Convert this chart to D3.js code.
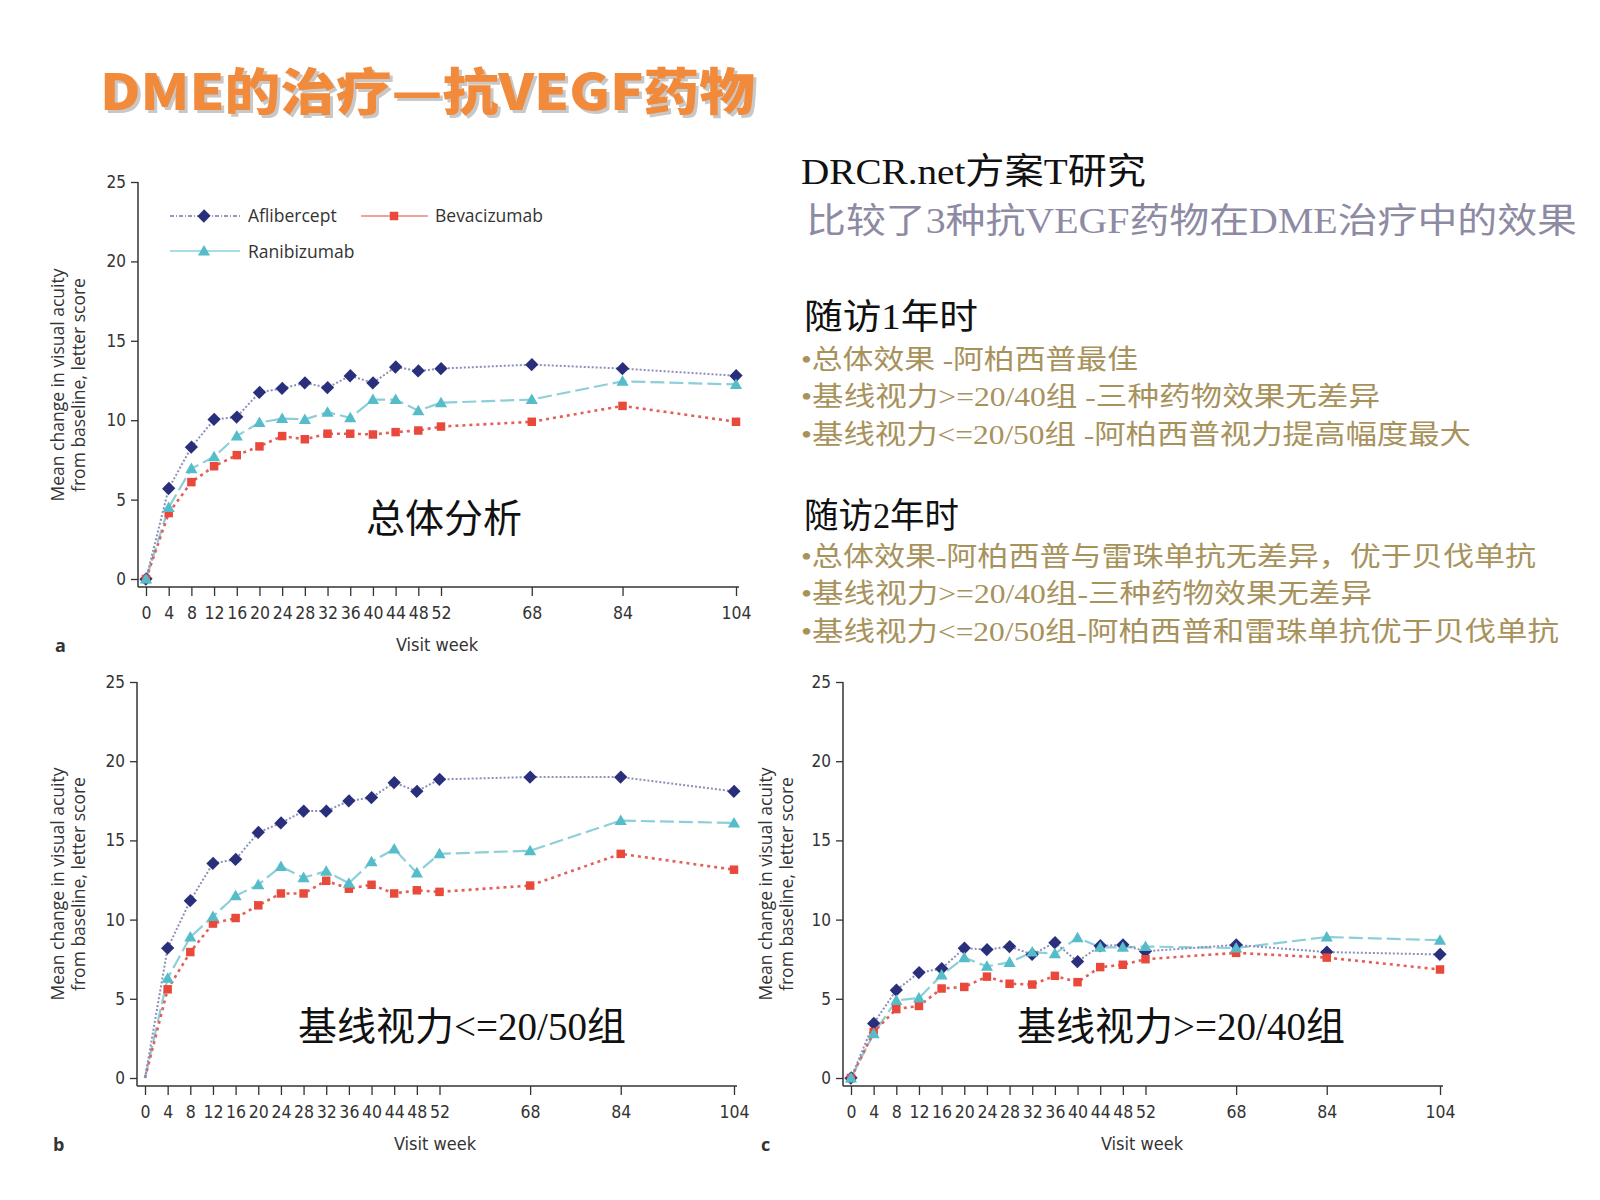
<!DOCTYPE html>
<html>
<head>
<meta charset="utf-8">
<script src="https://cdn.jsdelivr.net/npm/d3@7"></script>
<style>
  html, body { margin: 0; padding: 0; background: #ffffff; }
  svg { display: block; }
</style>
</head>
<body>
<svg id="chart" width="1600" height="1200"></svg>
<script>
// ---------------- DATA ----------------
const weeks = [0, 4, 8, 12, 16, 20, 24, 28, 32, 36, 40, 44, 48, 52, 68, 84, 104];
const xTickLabels = ["0","4","8","12","16","20","24","28","32","36","40","44","48","52","68","84","104"];
const yTicks = [0, 5, 10, 15, 20, 25];
const seriesNames = ["Aflibercept", "Bevacizumab", "Ranibizumab"];

// Panel a: overall
const afliA = [0, 5.7, 8.3, 10.05, 10.2, 11.75, 12.0, 12.35, 12.05, 12.8, 12.35, 13.35, 13.1, 13.25, 13.5, 13.25, 12.8];
const bevaA = [0, 4.15, 6.1, 7.1, 7.8, 8.35, 9.0, 8.8, 9.15, 9.15, 9.1, 9.25, 9.35, 9.6, 9.9, 10.9, 9.9];
const raniA = [0, 4.5, 6.95, 7.7, 9.0, 9.85, 10.1, 10.05, 10.5, 10.15, 11.3, 11.3, 10.6, 11.1, 11.3, 12.45, 12.25];

// Panel b: baseline VA <= 20/50
const afliB = [0, 8.2, 11.2, 13.55, 13.8, 15.5, 16.1, 16.85, 16.85, 17.5, 17.7, 18.65, 18.1, 18.85, 19.0, 19.0, 18.1];
const bevaB = [0, 5.6, 7.95, 9.75, 10.1, 10.9, 11.65, 11.65, 12.45, 11.95, 12.2, 11.65, 11.85, 11.75, 12.15, 14.15, 13.15];
const raniB = [0, 6.3, 8.9, 10.2, 11.5, 12.2, 13.35, 12.65, 13.05, 12.3, 13.65, 14.45, 12.95, 14.15, 14.35, 16.25, 16.1];

// Panel c: baseline VA >= 20/40
const afliC = [0, 3.45, 5.55, 6.65, 6.9, 8.2, 8.1, 8.3, 7.8, 8.55, 7.35, 8.35, 8.4, 8.0, 8.4, 7.95, 7.8];
const bevaC = [0, 2.9, 4.35, 4.55, 5.65, 5.75, 6.4, 5.95, 5.9, 6.45, 6.05, 7.0, 7.15, 7.5, 7.9, 7.6, 6.85];
const raniC = [0, 2.8, 4.9, 5.05, 6.5, 7.6, 7.05, 7.3, 7.95, 7.85, 8.85, 8.25, 8.25, 8.3, 8.2, 8.9, 8.7];

const panelLetters = ["a", "b", "c"];
const panelCaptions = ["总体分析", "基线视力<=20/50组", "基线视力>=20/40组"];
const yTitleLines = ["Mean change in visual acuity", "from baseline, letter score"];
const xTitle = "Visit week";

const mainTitle = "DME的治疗—抗VEGF药物";
const heading1 = "DRCR.net方案T研究";
const heading2 = "比较了3种抗VEGF药物在DME治疗中的效果";
const year1Title = "随访1年时";
const year1Bullets = ["•总体效果 -阿柏西普最佳", "•基线视力>=20/40组 -三种药物效果无差异", "•基线视力<=20/50组 -阿柏西普视力提高幅度最大"];
const year2Title = "随访2年时";
const year2Bullets = ["•总体效果-阿柏西普与雷珠单抗无差异，优于贝伐单抗", "•基线视力>=20/40组-三种药物效果无差异", "•基线视力<=20/50组-阿柏西普和雷珠单抗优于贝伐单抗"];

// ---------------- STYLE ----------------
const C = {
  afliMarker: "#2a2f7c", afliLine: "#8b90b8",
  bevaMarker: "#e8493b", bevaLine: "#e2605a",
  raniMarker: "#55bcc9", raniLine: "#8ccfd8",
  axis: "#333333", text: "#333333"
};
const tickFont = "'Liberation Sans Narrow', 'DejaVu Sans Condensed', 'Roboto Condensed', 'Liberation Sans', sans-serif";
const labelFont = "'Open Sans', 'Noto Sans', sans-serif";
const cjkSerif = "'Liberation Serif', 'Noto Sans CJK SC', serif";

const svg = d3.select("#chart");

// Title
const titleG = svg.append("g");
titleG.append("text")
  .attr("x", 103).attr("y", 113)
  .attr("textLength", 655).attr("lengthAdjust", "spacingAndGlyphs")
  .attr("font-family", "'Noto Sans CJK SC', sans-serif")
  .attr("font-weight", 900).attr("font-size", 50)
  .attr("fill", "#c8c8c8")
  .text(mainTitle);
titleG.append("text")
  .attr("x", 100).attr("y", 110)
  .attr("textLength", 655).attr("lengthAdjust", "spacingAndGlyphs")
  .attr("font-family", "'Noto Sans CJK SC', sans-serif")
  .attr("font-weight", 900).attr("font-size", 50)
  .attr("fill", "#f28a3b")
  .text(mainTitle);

// ---------------- PANELS ----------------
const panels = [
  { afli: afliA, beva: bevaA, rani: raniA, x0: 146, x1: 736, yAxisX: 138, y0: 579, y25: 182, axisY: 587,
    zeroMarker: true, legend: true, letter: panelLetters[0], caption: panelCaptions[0], capX: 444, capY: 532,
    yTitleX: 64, yTitleC: 385, xTitleX: 437, xTitleY: 651, letterX: 55 },
  { afli: afliB, beva: bevaB, rani: raniB, x0: 145, x1: 734, yAxisX: 137, y0: 1078, y25: 682, axisY: 1086,
    zeroMarker: false, legend: false, letter: panelLetters[1], caption: panelCaptions[1], capX: 462, capY: 1040,
    yTitleX: 64, yTitleC: 884, xTitleX: 435, xTitleY: 1150, letterX: 53 },
  { afli: afliC, beva: bevaC, rani: raniC, x0: 851, x1: 1440, yAxisX: 843, y0: 1078, y25: 682, axisY: 1086,
    zeroMarker: true, legend: false, letter: panelLetters[2], caption: panelCaptions[2], capX: 1181, capY: 1040,
    yTitleX: 772, yTitleC: 884, xTitleX: 1142, xTitleY: 1150, letterX: 761 }
];

const diamondShape = d3.symbol().type(d3.symbolSquare).size(84);
const square = d3.symbol().type(d3.symbolSquare).size(72);
const triangle = d3.symbol().type(d3.symbolTriangle).size(64);
const diamondT = (cx, cy) => `translate(${cx},${cy}) rotate(45) scale(1,1.05)`;

panels.forEach(p => {
  const g = svg.append("g");
  const x = d3.scaleLinear().domain([0, 104]).range([p.x0, p.x1]);
  const y = d3.scaleLinear().domain([0, 25]).range([p.y0, p.y25]);

  // Y axis
  const yAxis = d3.axisLeft(y).tickValues(yTicks).tickSize(7).tickPadding(5).tickFormat(d3.format("d"));
  const ya = g.append("g").attr("transform", `translate(${p.yAxisX},0)`).call(yAxis);
  ya.select(".domain").remove();
  ya.append("line").attr("x1", 0).attr("x2", 0).attr("y1", p.y25).attr("y2", p.axisY)
    .attr("stroke", C.axis).attr("stroke-width", 1.5);
  ya.selectAll(".tick line").attr("stroke", C.axis).attr("stroke-width", 1.3);
  ya.selectAll(".tick text").attr("font-family", tickFont).attr("font-size", 17).attr("fill", C.text);

  // X axis
  const xAxis = d3.axisBottom(x).tickValues(weeks).tickSize(9).tickPadding(11)
    .tickFormat((d, i) => xTickLabels[i]);
  const xa = g.append("g").attr("transform", `translate(0,${p.axisY})`).call(xAxis);
  xa.select(".domain").remove();
  xa.append("line").attr("x1", p.yAxisX).attr("x2", p.x1 + 3).attr("y1", 0).attr("y2", 0)
    .attr("stroke", C.axis).attr("stroke-width", 1.5);
  xa.selectAll(".tick line").attr("stroke", C.axis).attr("stroke-width", 1.3);
  xa.selectAll(".tick text").attr("font-family", tickFont).attr("font-size", 17.5).attr("fill", C.text);

  // Axis titles
  const yt = g.append("text")
    .attr("transform", `translate(${p.yTitleX},${p.yTitleC}) rotate(-90)`)
    .attr("text-anchor", "middle").attr("font-family", labelFont).attr("font-size", 17.5).attr("fill", C.text);
  yt.append("tspan").attr("x", 0).attr("dy", 0).text(yTitleLines[0]);
  yt.append("tspan").attr("x", 0).attr("dy", 21).text(yTitleLines[1]);

  g.append("text").attr("x", p.xTitleX).attr("y", p.xTitleY).attr("text-anchor", "middle")
    .attr("font-family", tickFont).attr("font-size", 18).attr("fill", C.text).text(xTitle);
  g.append("text").attr("x", p.letterX).attr("y", p.xTitleY + 1)
    .attr("font-family", labelFont).attr("font-weight", 700).attr("font-size", 18).attr("fill", C.text)
    .text(p.letter);

  // Lines
  const line = d3.line().x((d, i) => x(weeks[i])).y(d => y(d));
  g.append("path").datum(p.rani).attr("d", line).attr("fill", "none")
    .attr("stroke", C.raniLine).attr("stroke-width", 2.2).attr("stroke-dasharray", "14,5");
  g.append("path").datum(p.beva).attr("d", line).attr("fill", "none")
    .attr("stroke", C.bevaLine).attr("stroke-width", 2.6).attr("stroke-dasharray", "3,4");
  g.append("path").datum(p.afli).attr("d", line).attr("fill", "none")
    .attr("stroke", C.afliLine).attr("stroke-width", 2).attr("stroke-dasharray", "2,2");

  const idx = d3.range(weeks.length).filter(i => p.zeroMarker || i > 0);
  g.append("g").selectAll("path").data(idx).join("path")
    .attr("transform", i => diamondT(x(weeks[i]), y(p.afli[i])))
    .attr("d", diamondShape).attr("fill", C.afliMarker);
  g.append("g").selectAll("path").data(idx).join("path")
    .attr("transform", i => `translate(${x(weeks[i])},${y(p.beva[i])})`)
    .attr("d", square).attr("fill", C.bevaMarker);
  g.append("g").selectAll("path").data(idx).join("path")
    .attr("transform", i => `translate(${x(weeks[i])},${y(p.rani[i]) + 1})`)
    .attr("d", triangle).attr("fill", C.raniMarker);

  // Caption inside plot
  g.append("text").attr("x", p.capX).attr("y", p.capY).attr("text-anchor", "middle")
    .attr("font-family", cjkSerif).attr("font-size", 39).attr("fill", "#111111")
    .text(p.caption);

  // Legend
  if (p.legend) {
    const lg = g.append("g").attr("font-family", labelFont).attr("font-size", 17.5).attr("fill", C.text);
    // Aflibercept
    lg.append("line").attr("x1", 170).attr("x2", 240).attr("y1", 216).attr("y2", 216)
      .attr("stroke", C.afliMarker).attr("stroke-width", 1).attr("stroke-dasharray", "4,2,1,2");
    lg.append("path").attr("transform", diamondT(204, 216)).attr("d", diamondShape).attr("fill", C.afliMarker);
    lg.append("text").attr("x", 248).attr("y", 222).text(seriesNames[0]);
    // Bevacizumab
    lg.append("line").attr("x1", 361).attr("x2", 428).attr("y1", 216).attr("y2", 216)
      .attr("stroke", C.bevaMarker).attr("stroke-width", 1.2);
    lg.append("path").attr("transform", "translate(394,216)").attr("d", square).attr("fill", C.bevaMarker);
    lg.append("text").attr("x", 435).attr("y", 222).text(seriesNames[1]);
    // Ranibizumab
    lg.append("line").attr("x1", 170).attr("x2", 240).attr("y1", 251).attr("y2", 251)
      .attr("stroke", C.raniMarker).attr("stroke-width", 1.2);
    lg.append("path").attr("transform", "translate(204,252)").attr("d", triangle).attr("fill", C.raniMarker);
    lg.append("text").attr("x", 248).attr("y", 258).text(seriesNames[2]);
  }
});

// ---------------- RIGHT TEXT ----------------
const tg = svg.append("g").attr("font-family", cjkSerif);
function addText(str, xPos, yPos, size, color, len) {
  const t = tg.append("text").attr("x", xPos).attr("y", yPos).attr("font-size", size).attr("fill", color).text(str);
  if (len) t.attr("textLength", len).attr("lengthAdjust", "spacingAndGlyphs");
  return t;
}
addText(heading1, 801, 184, 36, "#111111", 345);
addText(heading2, 806, 233, 35, "#8d8aa4", 771);
addText(year1Title, 804, 329, 35, "#111111", 174);
const gold = "#a8925c";
const y1Pos = [369, 406, 444];
const y1Len = [337, 579, 670];
year1Bullets.forEach((b, i) => addText(b, 801, y1Pos[i], 27, gold, y1Len[i]));
addText(year2Title, 804, 528, 35, "#111111", 155);
const y2Pos = [566, 603, 641];
const y2Len = [735, 571, 758];
year2Bullets.forEach((b, i) => addText(b, 801, y2Pos[i], 27, gold, y2Len[i]));
</script>
</body>
</html>
